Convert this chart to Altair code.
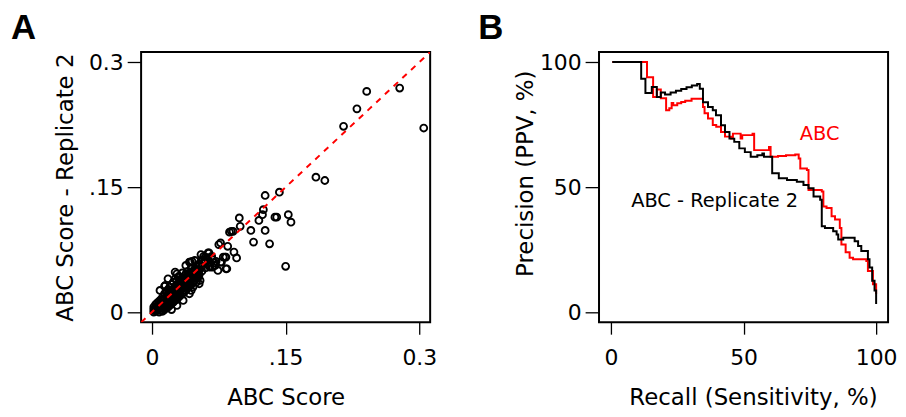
import altair as alt
import pandas as pd

FONT = "DejaVu Sans"

# ---------------- Panel A: ABC score vs replicate 2 ----------------
a_ticks = [0, 0.15, 0.3]
a_tick_labels = ["0", ".15", "0.3"]
a_domain = [-0.0122, 0.3122]

# dense cluster near the origin (ABC score, replicate 2)
cluster_pts = [
    (0.002, 0.000), (0.002, 0.003), (0.002, 0.006),
    (0.004, 0.001), (0.004, 0.005), (0.004, 0.009),
    (0.006, 0.002), (0.006, 0.006), (0.006, 0.011),
    (0.008, 0.000), (0.008, 0.004), (0.008, 0.008), (0.008, 0.013),
    (0.010, 0.002), (0.010, 0.006), (0.010, 0.010), (0.010, 0.015),
    (0.012, 0.001), (0.012, 0.005), (0.012, 0.009), (0.012, 0.013), (0.012, 0.018),
    (0.014, 0.003), (0.014, 0.007), (0.014, 0.011), (0.014, 0.016), (0.014, 0.022),
    (0.016, 0.005), (0.016, 0.009), (0.016, 0.014), (0.016, 0.019), (0.016, 0.025),
    (0.018, 0.006), (0.018, 0.011), (0.018, 0.016), (0.018, 0.021), (0.018, 0.027),
    (0.020, 0.008), (0.020, 0.013), (0.020, 0.018), (0.020, 0.023), (0.020, 0.030),
    (0.022, 0.010), (0.022, 0.015), (0.022, 0.020), (0.022, 0.026), (0.022, 0.033),
    (0.024, 0.012), (0.024, 0.017), (0.024, 0.022), (0.024, 0.028), (0.024, 0.036),
    (0.026, 0.014), (0.026, 0.019), (0.026, 0.025), (0.026, 0.031), (0.026, 0.040),
    (0.028, 0.016), (0.028, 0.021), (0.028, 0.027), (0.028, 0.033), (0.028, 0.038),
    (0.030, 0.018), (0.030, 0.024), (0.030, 0.029), (0.030, 0.035), (0.030, 0.043),
    (0.032, 0.020), (0.032, 0.026), (0.032, 0.032), (0.032, 0.038),
    (0.034, 0.022), (0.034, 0.028), (0.034, 0.034), (0.034, 0.041), (0.034, 0.047),
    (0.036, 0.024), (0.036, 0.030), (0.036, 0.036), (0.036, 0.043),
    (0.038, 0.026), (0.038, 0.033), (0.038, 0.039), (0.038, 0.046),
    (0.040, 0.029), (0.040, 0.035), (0.040, 0.041), (0.040, 0.049),
    (0.042, 0.031), (0.042, 0.037), (0.042, 0.044),
    (0.044, 0.033), (0.044, 0.040), (0.044, 0.047), (0.044, 0.053),
    (0.046, 0.036), (0.046, 0.042), (0.046, 0.049),
    (0.048, 0.038), (0.048, 0.045), (0.048, 0.052),
    (0.050, 0.041), (0.050, 0.048), (0.050, 0.055),
    (0.053, 0.045), (0.053, 0.051), (0.053, 0.058),
    (0.056, 0.049), (0.056, 0.055), (0.056, 0.062),
    (0.060, 0.053), (0.060, 0.060), (0.060, 0.066),
    (0.062, 0.058), (0.062, 0.064),
    (0.005, 0.003), (0.009, 0.007), (0.013, 0.010), (0.017, 0.012), (0.019, 0.019),
    (0.021, 0.016), (0.023, 0.024), (0.025, 0.020), (0.027, 0.023), (0.029, 0.030),
    (0.031, 0.027), (0.033, 0.031), (0.035, 0.032), (0.037, 0.038), (0.039, 0.037),
    (0.041, 0.045), (0.043, 0.042), (0.045, 0.044), (0.047, 0.046), (0.049, 0.050),
]

# scattered points away from the cluster
outlier_pts = [
    (0.241, 0.265), (0.278, 0.269), (0.305, 0.221), (0.230, 0.244), (0.215, 0.223),
    (0.184, 0.162), (0.194, 0.158), (0.127, 0.140), (0.143, 0.144), (0.125, 0.123),
    (0.124, 0.117), (0.098, 0.113), (0.120, 0.110), (0.138, 0.114), (0.140, 0.114),
    (0.153, 0.117), (0.156, 0.108), (0.099, 0.103), (0.111, 0.098), (0.127, 0.098),
    (0.087, 0.096), (0.089, 0.097), (0.091, 0.097), (0.114, 0.084), (0.132, 0.082),
    (0.150, 0.055), (0.077, 0.083), (0.075, 0.081), (0.085, 0.079), (0.064, 0.071),
    (0.092, 0.072), (0.095, 0.065), (0.083, 0.066), (0.058, 0.067), (0.059, 0.062),
    (0.043, 0.060), (0.038, 0.056), (0.077, 0.060), (0.068, 0.063), (0.071, 0.056),
    (0.084, 0.052), (0.074, 0.050), (0.065, 0.054), (0.028, 0.046), (0.052, 0.050),
    (0.050, 0.043), (0.053, 0.034), (0.014, 0.031), (0.044, 0.026),
    (0.057, 0.063), (0.063, 0.065), (0.080, 0.066), (0.082, 0.066), (0.078, 0.060),
    (0.072, 0.061), (0.083, 0.052), (0.068, 0.054), (0.070, 0.056), (0.045, 0.061),
    (0.042, 0.060), (0.054, 0.056), (0.048, 0.046), (0.052, 0.042), (0.046, 0.040),
    (0.050, 0.036), (0.048, 0.062), (0.055, 0.069), (0.063, 0.071), (0.067, 0.067),
    (0.059, 0.059), (0.065, 0.055), (0.070, 0.059), (0.026, 0.048), (0.018, 0.040),
    (0.015, 0.032), (0.009, 0.026), (0.052, 0.046), (0.054, 0.038), (0.046, 0.030),
    (0.042, 0.022), (0.035, 0.014), (0.028, 0.008), (0.022, 0.003),
]

# ---------------- Panel B: precision-recall ----------------
b_ticks = [0, 50, 100]
b_domain_x = [-4.5, 104.5]
b_domain_y = [-4, 104]

abc_recall = [0.5, 13.6, 15.9, 17.3, 18.8, 20.8, 22.0, 22.9, 23.5, 25.0,
              26.5, 28.0, 30.4, 34.7, 35.3, 36.6, 38.4, 39.7, 41.5, 43.0,
              45.3, 46.0, 48.9, 49.5, 53.4, 54.0, 59.6, 60.2, 63.0, 66.0,
              69.5, 70.8, 71.4, 73.9, 74.5, 79.5, 80.1, 81.3, 83.2, 84.5,
              86.3, 86.9, 88.5, 90.0, 91.3, 96.3, 96.9, 98.8, 100]
abc_precision = [100, 93.9, 86.0, 89.0, 85.5, 80.7, 81.5, 83.6, 82.7, 83.5,
                 84.0, 84.5, 85.3, 82.0, 79.5, 77.4, 74.8, 74.1, 72.0, 70.2,
                 69.4, 71.4, 69.4, 70.8, 71.4, 64.8, 66.1, 62.2, 62.5, 62.8,
                 63.1, 61.5, 57.5, 56.9, 48.9, 48.3, 42.3, 41.7, 38.4, 37.1,
                 33.7, 27.1, 24.0, 21.8, 21.2, 20.5, 16.5, 11.2, 7.3]

rep2_recall = [0.5, 11.4, 13.0, 15.4, 17.3, 18.8, 20.4, 22.5, 24.5, 26.5,
               28.5, 30.5, 32.5, 33.5, 34.7, 36.6, 38.4, 39.6, 41.5, 43.0,
               44.7, 46.5, 48.4, 50.5, 52.7, 55.2, 57.1, 57.7, 60.8, 63.3,
               66.4, 70.1, 72.6, 74.5, 76.4, 78.9, 79.5, 80.7, 83.8, 85.1,
               85.7, 87.6, 90.0, 91.9, 93.2, 94.4, 96.9, 97.5, 98.5, 99.4,
               100]
rep2_precision = [100, 93.3, 87.6, 90.0, 86.0, 87.8, 87.0, 87.8, 88.5, 89.2,
                  89.9, 90.6, 91.2, 89.3, 83.9, 82.0, 80.7, 78.7, 74.7, 72.0,
                  69.4, 68.1, 65.5, 64.0, 62.2, 62.8, 63.5, 62.2, 55.6, 53.6,
                  52.9, 52.2, 50.9, 49.6, 46.3, 45.0, 34.4, 33.7, 32.4, 31.1,
                  29.1, 29.8, 29.8, 28.4, 26.5, 24.5, 21.2, 17.9, 12.6, 8.7,
                  3.3]

ann_text = ["ABC", "ABC - Replicate 2"]
ann_recall = [78.7, 39.1]
ann_precision = [71.4, 44.4]
ann_color = ["#ff0000", "#000000"]

panel_letters = ["A", "B"]


def label_expr(vals, labs):
    expr = "''"
    for v, l in zip(reversed(vals), reversed(labs)):
        expr = f"abs(datum.value - ({v})) < 1e-9 ? '{l}' : ({expr})"
    return expr


W, H = 291, 272

x_ax = dict(tickSize=12, labelPadding=14, titleBaseline="alphabetic",
            titleAlign="center", titleY=83, labelFlush=False, labelOverlap=False)
y_ax = dict(tickSize=14, labelPadding=4, titleBaseline="alphabetic",
            titleAlign="center", titleAngle=270, labelFlush=False, labelOverlap=False)

# ---- Panel A ----
scat_df = pd.DataFrame(cluster_pts + outlier_pts, columns=["abc", "rep2"])
diag_df = pd.DataFrame({"v": a_domain})

xA = alt.X("abc:Q", scale=alt.Scale(domain=a_domain, nice=False, zero=False),
           axis=alt.Axis(values=a_ticks, labelExpr=label_expr(a_ticks, a_tick_labels),
                         title="ABC Score", titleX=145.5, **x_ax))
yA = alt.Y("rep2:Q", scale=alt.Scale(domain=a_domain, nice=False, zero=False),
           axis=alt.Axis(values=a_ticks, labelExpr=label_expr(a_ticks, a_tick_labels),
                         title="ABC Score - Replicate 2", titleX=-69, titleY=136, **y_ax))

points = alt.Chart(scat_df).mark_point(
    shape="circle", filled=False, size=48, strokeWidth=1.9, color="black", opacity=1
).encode(x=xA, y=yA)

diag = alt.Chart(diag_df).mark_line(
    color="#ff0000", strokeDash=[6, 6], strokeWidth=2, clip=True
).encode(x=alt.X("v:Q", scale=alt.Scale(domain=a_domain, nice=False, zero=False)),
         y=alt.Y("v:Q", scale=alt.Scale(domain=a_domain, nice=False, zero=False)))

LETTER_SIZE = 35
LETTER_Y = -13.3

letterA = alt.Chart(pd.DataFrame({"t": [panel_letters[0]]})).mark_text(
    font="Liberation Sans", fontWeight="bold", fontSize=LETTER_SIZE, align="left",
    baseline="alphabetic", color="black"
).encode(text="t:N", x=alt.value(-131), y=alt.value(LETTER_Y))

panelA = alt.layer(points, diag, letterA).properties(width=W, height=H)

# ---- Panel B ----
red_df = pd.DataFrame({"recall": abc_recall, "precision": abc_precision,
                       "i": range(len(abc_recall))})
blk_df = pd.DataFrame({"recall": rep2_recall, "precision": rep2_precision,
                       "i": range(len(rep2_recall))})
ann_df = pd.DataFrame({"t": ann_text, "recall": ann_recall,
                       "precision": ann_precision, "c": ann_color})

xB = alt.X("recall:Q", scale=alt.Scale(domain=b_domain_x, nice=False, zero=False),
           axis=alt.Axis(values=b_ticks, title="Recall (Sensitivity, %)",
                         titleX=155, **x_ax))
yB = alt.Y("precision:Q", scale=alt.Scale(domain=b_domain_y, nice=False, zero=False),
           axis=alt.Axis(values=b_ticks, title="Precision (PPV, %)",
                         titleX=-67, titleY=122, **y_ax))

red_line = alt.Chart(red_df).mark_line(
    interpolate="step-after", strokeWidth=2, color="#ff0000", clip=True
).encode(x=xB, y=yB, order="i:Q")
blk_line = alt.Chart(blk_df).mark_line(
    interpolate="step-after", strokeWidth=2, color="black", clip=True
).encode(x=xB, y=yB, order="i:Q")
ann = alt.Chart(ann_df).mark_text(
    font=FONT, fontSize=19.5, align="center", baseline="middle"
).encode(x=xB, y=yB, text="t:N", color=alt.Color("c:N", scale=None, legend=None))

letterB = alt.Chart(pd.DataFrame({"t": [panel_letters[1]]})).mark_text(
    font="Liberation Sans", fontWeight="bold", fontSize=LETTER_SIZE, align="left",
    baseline="alphabetic", color="black"
).encode(text="t:N", x=alt.value(-121.5), y=alt.value(LETTER_Y))

panelB = alt.layer(red_line, blk_line, ann, letterB).properties(width=W, height=H)

chart = alt.hconcat(panelA, panelB, spacing=170, bounds="flush").resolve_scale(
    x="independent", y="independent"
).properties(
    padding={"left": 2, "top": 0, "right": 0, "bottom": 0},
    background="white",
).configure_view(
    stroke="black", strokeWidth=2
).configure_axis(
    domain=False, grid=False, tickColor="black", tickWidth=1.3,
    labelFont=FONT, labelFontSize=22, labelColor="black",
    titleFont=FONT, titleFontSize=23, titleFontWeight="normal", titleColor="black",
)

chart.save("out.html", embed_options={"renderer": "svg", "actions": False})
